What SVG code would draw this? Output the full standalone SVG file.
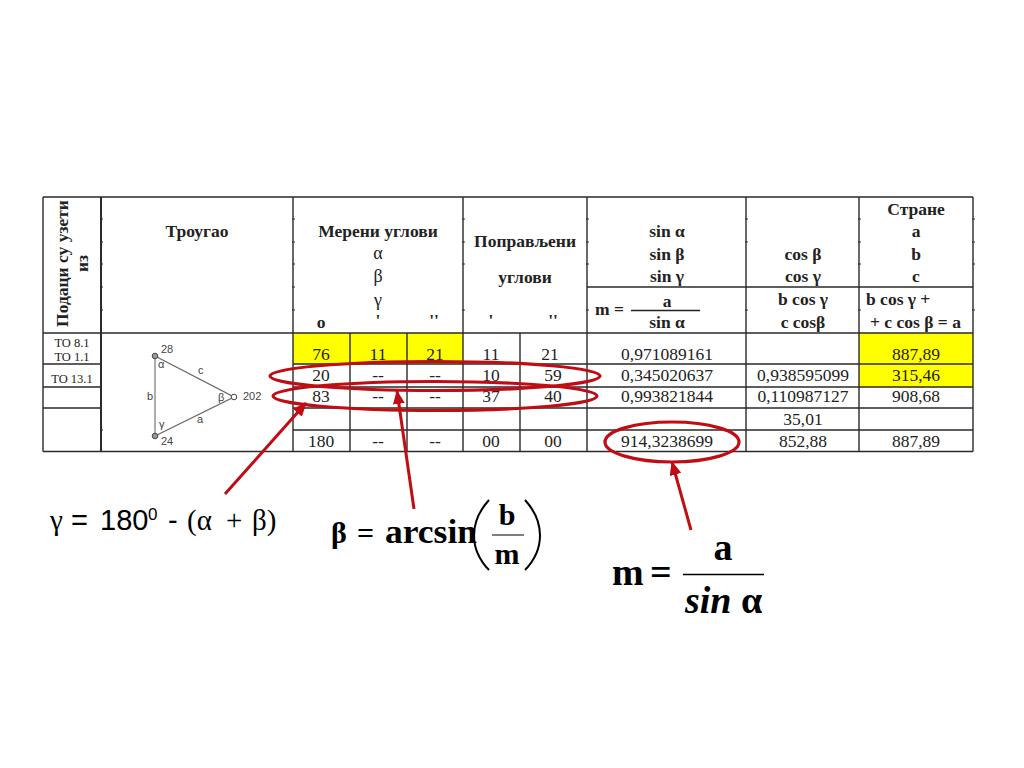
<svg xmlns="http://www.w3.org/2000/svg" width="1024" height="768" viewBox="0 0 1024 768">
<style>
text{font-family:"Liberation Serif","DejaVu Serif",serif;fill:#222}
.h{font-size:17.5px;font-weight:bold;text-anchor:middle}
.n{font-size:18px;font-weight:normal}
.st{text-anchor:start}
.d{font-size:17.5px;text-anchor:middle}
.s{font-size:12.5px;text-anchor:middle}
.l{font-family:"Liberation Sans",sans-serif;font-size:11px;fill:#444}
.m{fill:#000;font-weight:bold}
.f{fill:#000;font-size:29px}
.fs{font-family:"Liberation Sans",sans-serif}
.g{stroke:#2a2a2a;stroke-width:1.4;fill:none}
.r{stroke:#c00d14;stroke-width:3.2;fill:none}
.a{stroke:#c00d14;stroke-width:3;fill:none;marker-end:url(#ah)}
</style>
<defs>
<marker id="ah" markerUnits="userSpaceOnUse" markerWidth="14" markerHeight="12" refX="13" refY="6" orient="auto"><path d="M0 0L14 6L0 12Z" fill="#c00d14"/></marker>
</defs>
<rect width="1024" height="768" fill="#fff"/>
<g id="yellow">
<rect x="293" y="333" width="170" height="31" fill="#ffff00"/>
<rect x="859" y="333" width="114" height="54" fill="#ffff00"/>
</g>
<g id="grid" class="g">
<path d="M43 197H973M43 333H973M43 451.500H973M587 287H973"/>
<path d="M43 364H101M293 364H973M43 387H101M293 387H973M43 408H101M293 408H973M293 430H973"/>
<path d="M43 197V451.500M293 197V451.500M463 197V451.500M587 197V451.500M746 197V451.500M859 197V451.500M973 197V451.500"/>
<path d="M101 197V451.500" stroke-width="2"/>
<path d="M350 333V451.500M407 333V451.500M520 333V451.500"/>
<path d="M100 219h3M100 242h3M100 264h3M100 287h3M100 310h3M100 430h3M292 219h3M292 242h3M292 264h3M292 287h3M292 310h3M462 219h3M462 242h3M462 264h3M462 310h3M586 219h3M586 242h3M586 264h3M586 310h3M745 219h3M745 242h3M745 310h3M858 219h3M858 242h3M858 264h3M858 310h3M972 219h3M972 242h3M972 264h3M972 310h3" stroke-width="1"/>
</g>
<g id="header">
<text class="h" transform="translate(68 263.500) rotate(-90)">Подаци су узети</text>
<text class="h" transform="translate(88 263.500) rotate(-90)">из</text>
<text class="h" x="197" y="237">Троугао</text>
<text class="h" x="378" y="237">Мерени углови</text>
<text class="h n" x="378" y="259">α</text>
<text class="h n" x="378" y="282">β</text>
<text class="h n" x="378" y="306">γ</text>
<text class="h" x="321" y="328">о</text>
<text class="h" x="378" y="326">'</text>
<text class="h" x="434" y="326">''</text>
<text class="h" x="525" y="247">Поправљени</text>
<text class="h" x="525" y="283">углови</text>
<text class="h" x="491" y="326">'</text>
<text class="h" x="553" y="326">''</text>
<text class="h" x="667" y="237">sin α</text>
<text class="h" x="667" y="260">sin β</text>
<text class="h" x="667" y="282">sin γ</text>
<text class="h st" x="595" y="315">m =</text>
<text class="h" x="667" y="307">a</text>
<path d="M631 310.500H700" stroke="#222" stroke-width="1.500"/>
<text class="h" x="667" y="328">sin α</text>
<text class="h" x="803" y="260">cos β</text>
<text class="h" x="803" y="282">cos γ</text>
<text class="h" x="803" y="305">b cos γ</text>
<text class="h" x="803" y="328">c cosβ</text>
<text class="h" x="916" y="215">Стране</text>
<text class="h" x="916" y="237">a</text>
<text class="h" x="916" y="260">b</text>
<text class="h" x="916" y="282">c</text>
<text class="h st" x="866" y="305">b cos γ +</text>
<text class="h st" x="870" y="328">+ c cos β = a</text>
</g>
<g id="row-labels">
<text class="s" x="72" y="347">ТО 8.1</text>
<text class="s" x="72" y="361">ТО 1.1</text>
<text class="s" x="72" y="383">ТО 13.1</text>
</g>
<g id="triangle">
<path d="M155 356V436" fill="none" stroke="#999" stroke-width="1.600"/>
<path d="M155 356L234 397L155 436" fill="none" stroke="#666" stroke-width="1.300"/>
<circle cx="155" cy="356" r="2.800" fill="#999" stroke="#444"/>
<circle cx="234" cy="397" r="2.800" fill="#fff" stroke="#444"/>
<circle cx="155" cy="436" r="2.800" fill="#999" stroke="#444"/>
<text class="l" x="161" y="353">28</text>
<text class="l" x="243" y="400">202</text>
<text class="l" x="161" y="445">24</text>
<text class="l" x="158" y="368">α</text>
<text class="l" x="198" y="374">c</text>
<text class="l" x="218" y="401">β</text>
<text class="l" x="147" y="400">b</text>
<text class="l" x="159" y="428">γ</text>
<text class="l" x="197" y="423">a</text>
</g>
<g id="data">
<text class="d" x="321" y="360">76</text><text class="d" x="378" y="360">11</text><text class="d" x="435" y="360">21</text><text class="d" x="491" y="360">11</text><text class="d" x="550" y="360">21</text><text class="d" x="667" y="360">0,971089161</text><text class="d" x="916" y="360">887,89</text>
<text class="d" x="321" y="381">20</text><text class="d" x="378" y="381">--</text><text class="d" x="435" y="381">--</text><text class="d" x="491" y="381">10</text><text class="d" x="553" y="381">59</text><text class="d" x="667" y="381">0,345020637</text><text class="d" x="803" y="381">0,938595099</text><text class="d" x="916" y="381">315,46</text>
<text class="d" x="321" y="402">83</text><text class="d" x="378" y="402">--</text><text class="d" x="435" y="402">--</text><text class="d" x="491" y="402">37</text><text class="d" x="553" y="402">40</text><text class="d" x="667" y="402">0,993821844</text><text class="d" x="803" y="402">0,110987127</text><text class="d" x="916" y="402">908,68</text>
<text class="d" x="803" y="425">35,01</text>
<text class="d" x="321" y="447">180</text><text class="d" x="378" y="447">--</text><text class="d" x="435" y="447">--</text><text class="d" x="491" y="447">00</text><text class="d" x="553" y="447">00</text><text class="d" x="667" y="447">914,3238699</text><text class="d" x="803" y="447">852,88</text><text class="d" x="916" y="447">887,89</text>
</g>
<g id="connectors">
<ellipse class="r" cx="435" cy="376" rx="165" ry="14.500"/>
<ellipse class="r" cx="435" cy="396" rx="162" ry="14.500"/>
<ellipse class="r" cx="672" cy="442" rx="67" ry="20"/>
<path class="a" d="M225 494L306 403"/>
<path class="a" d="M414 509L397 391"/>
<path class="a" d="M691 530L672 462"/>
</g>
<g id="formula-gamma">
<text class="f" y="530"><tspan x="50">γ</tspan><tspan class="fs" x="71">=</tspan><tspan class="fs" x="100">180</tspan><tspan class="fs" x="148" y="520" font-size="17">0</tspan><tspan class="fs" x="168" y="530">-</tspan><tspan x="187">(α</tspan><tspan x="226">+</tspan><tspan x="252">β)</tspan></text>
</g>
<g id="formula-beta">
<text class="m" y="543" font-size="30"><tspan x="331">β</tspan><tspan x="357">=</tspan></text>
<text class="m" x="385" y="543" font-size="34" textLength="92" lengthAdjust="spacingAndGlyphs">arcsin</text>
<path d="M489 500C469 522 469 549 489 570M525 500C545 522 545 549 525 570" fill="none" stroke="#000" stroke-width="2"/>
<text class="m" x="507" y="525" font-size="30" text-anchor="middle">b</text>
<path d="M492 535H524" stroke="#555" stroke-width="1.500"/>
<text class="m" x="507" y="564" font-size="30" text-anchor="middle">m</text>
</g>
<g id="formula-m">
<text class="m" y="585" font-size="38"><tspan x="612">m</tspan><tspan x="650">=</tspan></text>
<text class="m" x="723" y="560" font-size="38" text-anchor="middle">a</text>
<path d="M683 574.500H764" stroke="#000" stroke-width="1.500"/>
<text class="m" y="613" font-size="38"><tspan x="685" font-style="italic">sin</tspan><tspan x="741">α</tspan></text>
</g>
</svg>
